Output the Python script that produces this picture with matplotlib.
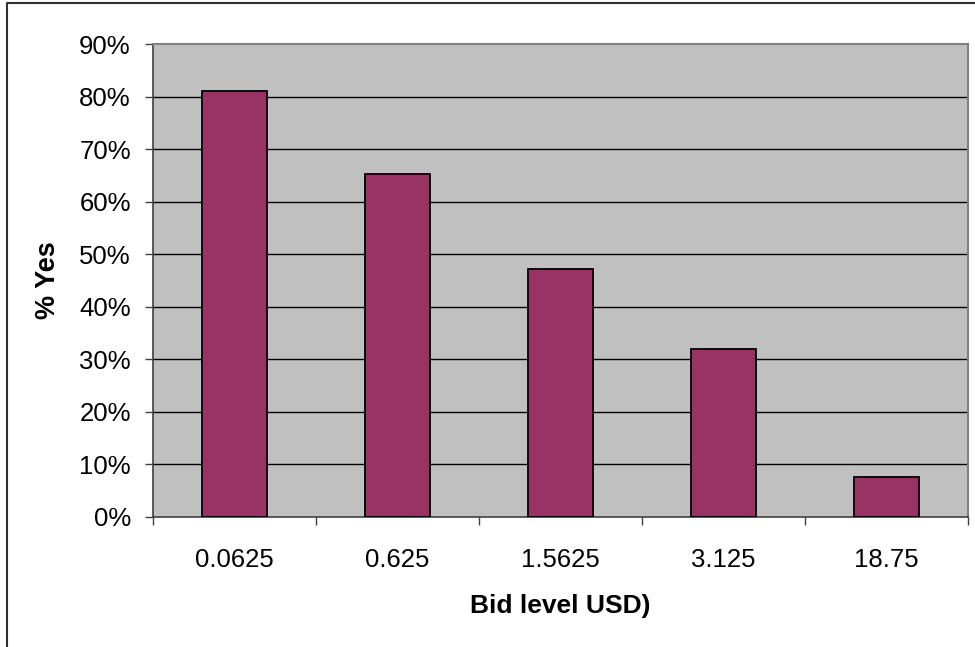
import matplotlib.pyplot as plt
from matplotlib.lines import Line2D
from matplotlib.ticker import FixedLocator

plt.rcParams['font.family'] = ['Liberation Sans', 'DejaVu Sans']

#====================
# Data
#====================
bid_levels = ['0.0625', '0.625', '1.5625', '3.125', '18.75']
pct_yes = [81.1, 65.2, 47.2, 32.0, 7.6]
y_ticks = [0, 10, 20, 30, 40, 50, 60, 70, 80, 90]

#====================
# Figure
#====================
fig = plt.figure(figsize=(9.75, 6.47), dpi=100)
ax = fig.add_axes([153 / 975, 1 - 517 / 647, 815 / 975, 473 / 647])
ax.set_facecolor('#C0C0C0')

x = [i + 0.5 for i in range(len(bid_levels))]
ax.bar(x, pct_yes, width=0.4, color='#993366', edgecolor='black',
       linewidth=1.3, zorder=3)

ax.set_xlim(0, len(bid_levels))
ax.set_ylim(0, 90)

# horizontal gridlines
for t in y_ticks[1:-1]:
    ax.axhline(t, color='black', linewidth=1.0, zorder=1)

ax.set_yticks(y_ticks)
ax.set_yticklabels([f'{t}%' for t in y_ticks])
ax.set_xticks(x)
ax.set_xticklabels(bid_levels)
ax.xaxis.set_minor_locator(FixedLocator(range(len(bid_levels) + 1)))

ax.tick_params(axis='y', length=6, width=1, color='#404040', pad=10,
               labelsize=18.5)
ax.tick_params(axis='x', which='major', length=0, pad=22, labelsize=18.5)
ax.tick_params(axis='x', which='minor', length=6, width=1, color='#404040')

for side in ['top', 'right']:
    ax.spines[side].set_color('#808080')
    ax.spines[side].set_linewidth(1.5)
for side in ['left', 'bottom']:
    ax.spines[side].set_color('#404040')
    ax.spines[side].set_linewidth(1.2)

ax.set_ylabel('% Yes', fontsize=19.5, fontweight='bold', va='center')
ax.yaxis.set_label_coords(-0.129, 0.5)
ax.set_xlabel('Bid level USD)', fontsize=19, fontweight='bold', va='center')
ax.xaxis.set_label_coords(0.5, -0.188)

# outer chart border (top and left only)
fig.add_artist(Line2D([7 / 975, 7 / 975, 1], [0, 1 - 2.5 / 647, 1 - 2.5 / 647],
                      transform=fig.transFigure, color='#303030', linewidth=1.5))

fig.savefig('out.png', dpi=100)
